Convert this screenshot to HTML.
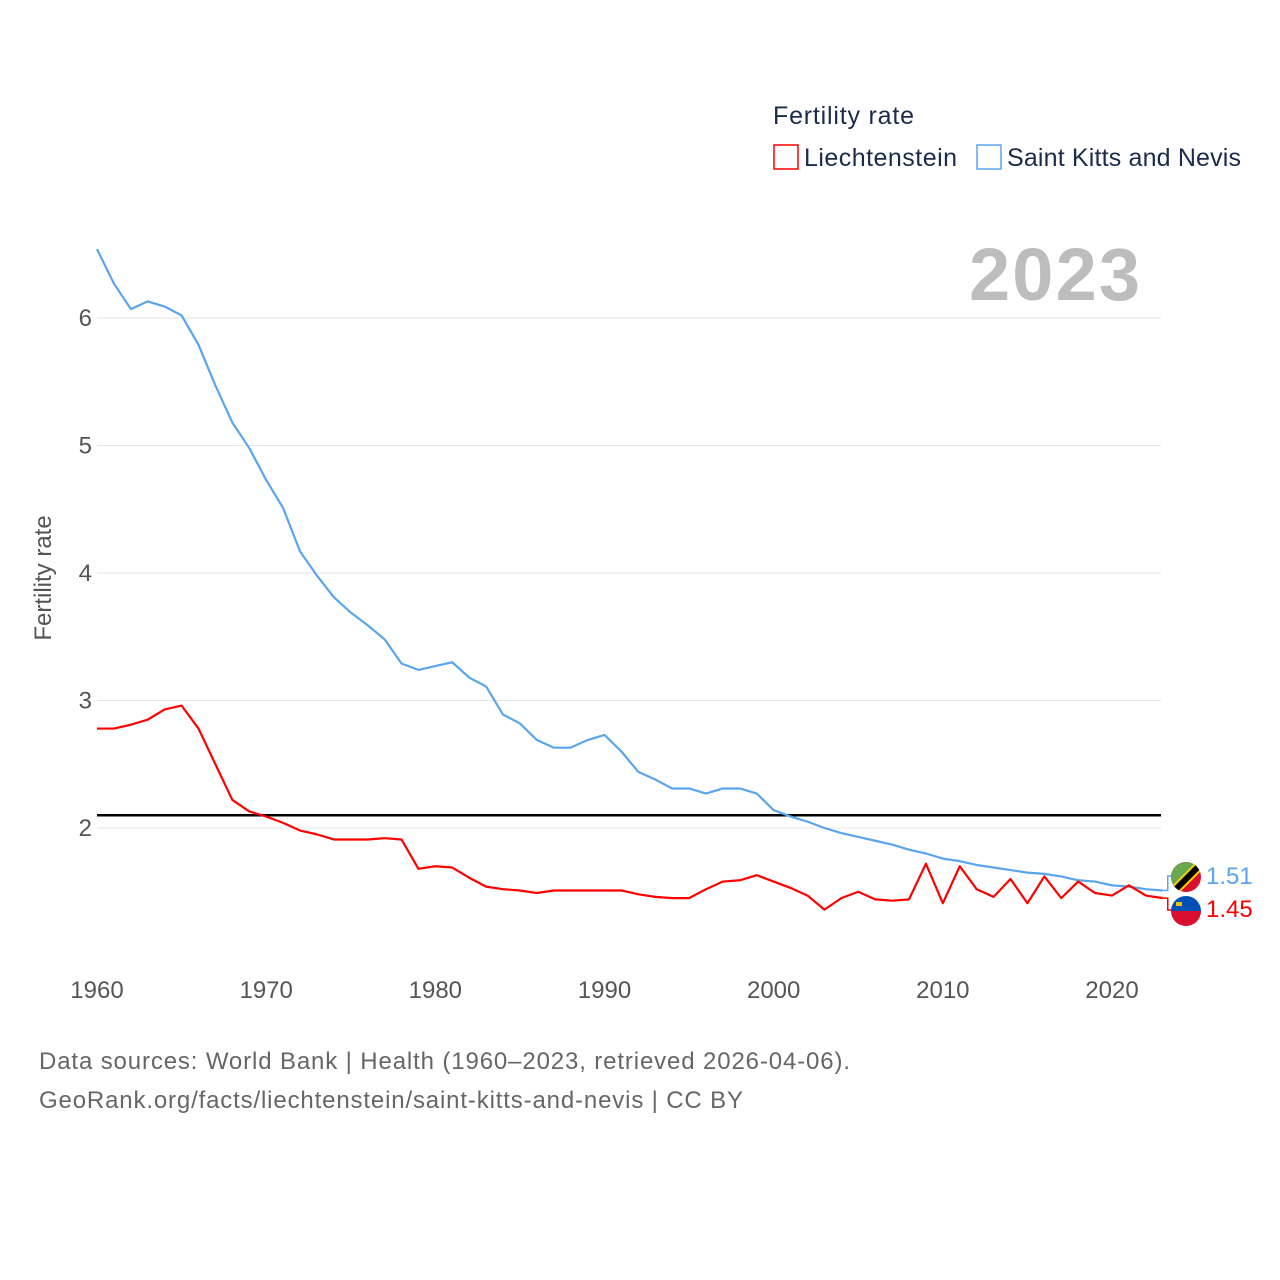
<!DOCTYPE html>
<html><head><meta charset="utf-8"><style>
body{margin:0;background:#fff;width:1280px;height:1280px;overflow:hidden;font-family:"Liberation Sans",sans-serif}
svg{display:block}
</style></head><body>
<svg id="chart" width="1280" height="1280">
<text x="773" y="124" font-size="25" fill="#1b2b4b" textLength="141">Fertility rate</text>
<g>
<rect x="774" y="145" width="24" height="24" fill="none" stroke="#ff0000" stroke-width="1.5"/>
<text x="804" y="166" font-size="25" fill="#1b2b4b" textLength="153">Liechtenstein</text></g>
<g>
<rect x="977" y="145" width="24" height="24" fill="none" stroke="#5aa5ee" stroke-width="1.5"/>
<text x="1007" y="166" font-size="25" fill="#1b2b4b" textLength="234">Saint Kitts and Nevis</text></g>
<text x="969" y="300" font-size="74" font-weight="bold" fill="#bdbdbd" textLength="171">2023</text>
<text transform="translate(51,578) rotate(-90)" font-size="24" fill="#555" text-anchor="middle">Fertility rate</text>
<g id="grid"></g><g id="lines"></g>
<g font-size="24" fill="#666">
<text x="39" y="1069" textLength="811">Data sources: World Bank | Health (1960–2023, retrieved 2026-04-06).</text>
<text x="39" y="1108" textLength="704">GeoRank.org/facts/liechtenstein/saint-kitts-and-nevis | CC BY</text></g>
</svg>
<script>
const years=[];for(let y=1960;y<=2023;y++)years.push(y);
const skn=[6.54,6.27,6.07,6.13,6.09,6.02,5.79,5.47,5.18,4.98,4.73,4.51,4.17,3.98,3.81,3.69,3.59,3.48,3.29,3.24,3.27,3.30,3.18,3.11,2.89,2.82,2.69,2.63,2.63,2.69,2.73,2.60,2.44,2.38,2.31,2.31,2.27,2.31,2.31,2.27,2.14,2.09,2.05,2.00,1.96,1.93,1.90,1.87,1.83,1.80,1.76,1.74,1.71,1.69,1.67,1.65,1.64,1.62,1.59,1.58,1.55,1.54,1.52,1.51];
const lie=[2.78,2.78,2.81,2.85,2.93,2.96,2.78,2.50,2.22,2.13,2.09,2.04,1.98,1.95,1.91,1.91,1.91,1.92,1.91,1.68,1.70,1.69,1.61,1.54,1.52,1.51,1.49,1.51,1.51,1.51,1.51,1.51,1.48,1.46,1.45,1.45,1.52,1.58,1.59,1.63,1.58,1.53,1.47,1.36,1.45,1.50,1.44,1.43,1.44,1.72,1.41,1.70,1.52,1.46,1.60,1.41,1.62,1.45,1.58,1.49,1.47,1.55,1.47,1.45];
const yTicks=[2,3,4,5,6];
const xTicks=[1960,1970,1980,1990,2000,2010,2020];
const replacement=2.1;
const NS="http://www.w3.org/2000/svg";
const X=y=>97+(y-1960)*(1015/60);
const Y=v=>828-(v-2)*127.5;
function mk(t,a,p){const e=document.createElementNS(NS,t);for(const k in a)e.setAttribute(k,a[k]);p.appendChild(e);return e;}
const g=document.getElementById('grid'),L=document.getElementById('lines');
yTicks.forEach(v=>{
 const l=mk('line',{x1:97,x2:1161,y1:Y(v),y2:Y(v),stroke:'#e6e6e6','stroke-width':1},g);
 
 
 const t=mk('text',{x:92,y:Y(v)+8,'font-size':24,fill:'#555','text-anchor':'end'},g);t.textContent=v;
 
 
});
xTicks.forEach(v=>{
 const t=mk('text',{x:X(v),y:998,'font-size':24,fill:'#555','text-anchor':'middle'},g);t.textContent=v;
 
 
});
const rl=mk('line',{x1:97,x2:1161,y1:Y(replacement),y2:Y(replacement),stroke:'#000','stroke-width':2.5},L);


function series(d,c,name){
 const p=mk('polyline',{points:d.map((v,i)=>X(years[i])+','+Y(v)).join(' '),fill:'none',stroke:c,'stroke-width':2.2,'stroke-linejoin':'round'},L);
 
 
}
series(skn,'#5aa5ee','line-saint-kitts-and-nevis');
series(lie,'#ff0000','line-liechtenstein');
const ex=X(2023);
const ys=Y(skn[skn.length-1]),yl=Y(lie[lie.length-1]);
mk('path',{d:`M${ex} ${ys} H${ex+5} V876 H${ex+12}`,fill:'none',stroke:'#5aa5ee','stroke-width':1.5},L);
mk('path',{d:`M${ex} ${yl} H${ex+5} V910 H${ex+12}`,fill:'none',stroke:'#ff0000','stroke-width':1.5},L);
const f1=mk('g',{},L);
mk('clipPath',{id:'c1'},f1);mk('circle',{cx:1186,cy:877,r:15},document.getElementById('c1'));
const fg=mk('g',{'clip-path':'url(#c1)'},f1);
mk('rect',{x:1171,y:862,width:30,height:30,fill:'#d90f2c'},fg);
mk('polygon',{points:'1171,862 1201,862 1171,892',fill:'#6aa84f'},fg);
mk('line',{x1:1171,y1:894,x2:1203,y2:862,stroke:'#f5d000','stroke-width':10},fg);
mk('line',{x1:1171,y1:894,x2:1203,y2:862,stroke:'#000','stroke-width':6},fg);
const f2=mk('g',{},L);
mk('clipPath',{id:'c2'},f2);mk('circle',{cx:1186,cy:911,r:15},document.getElementById('c2'));
const fg2=mk('g',{'clip-path':'url(#c2)'},f2);
mk('rect',{x:1171,y:896,width:30,height:15,fill:'#0050b5'},fg2);
mk('rect',{x:1171,y:911,width:30,height:15,fill:'#d80f2e'},fg2);
mk('rect',{x:1176,y:902,width:6,height:4,fill:'#f5c000'},fg2);
const t1=mk('text',{x:1206,y:884,'font-size':24,fill:'#5aa5ee'},L);t1.textContent=skn[skn.length-1].toFixed(2);


const t2=mk('text',{x:1206,y:917,'font-size':24,fill:'#ff0000'},L);t2.textContent=lie[lie.length-1].toFixed(2);


</script>
</body></html>
